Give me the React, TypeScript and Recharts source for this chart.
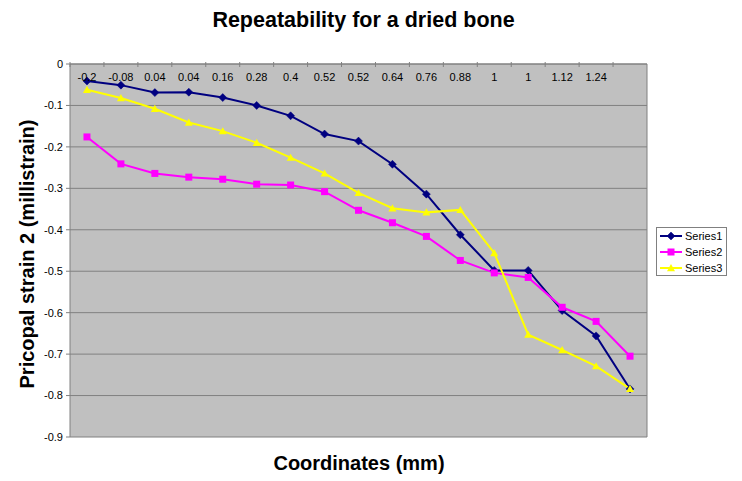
import React from 'react';
import { LineChart, Line, XAxis, YAxis, CartesianGrid } from 'recharts';

// x categories (coordinates in mm); the last point has no label
const coords = ['-0.2', '-0.08', '0.04', '0.04', '0.16', '0.28', '0.4', '0.52', '0.52', '0.64', '0.76', '0.88', '1', '1', '1.12', '1.24', ''];

const series1 = [-0.041, -0.051, -0.069, -0.068, -0.081, -0.1, -0.125, -0.169, -0.186, -0.242, -0.314, -0.412, -0.498, -0.498, -0.595, -0.656, -0.784];
const series2 = [-0.176, -0.241, -0.264, -0.273, -0.278, -0.29, -0.292, -0.308, -0.353, -0.383, -0.416, -0.474, -0.504, -0.515, -0.587, -0.621, -0.705];
const series3 = [-0.062, -0.082, -0.108, -0.141, -0.162, -0.19, -0.226, -0.264, -0.311, -0.348, -0.358, -0.352, -0.456, -0.653, -0.69, -0.729, -0.784];

const yTicks = [0, -0.1, -0.2, -0.3, -0.4, -0.5, -0.6, -0.7, -0.8, -0.9];

const data = coords.map((c, i) => ({ coord: c, s1: series1[i], s2: series2[i], s3: series3[i] }));

const W = 742;
const H = 481;
const PLOT_LEFT = 70;
const PLOT_TOP = 64;
const PLOT_RIGHT = 647;
const PLOT_BOTTOM = 437;
const STEP = (PLOT_RIGHT - PLOT_LEFT) / coords.length;
const FONT = '"Liberation Sans", Arial, sans-serif';

const NAVY = '#000080';
const MAGENTA = '#ff00ff';
const YELLOW = '#ffff00';

const Diamond = ({ cx, cy, fill, s = 4 }: any) => (
  <path d={`M${cx},${cy - s}L${cx + s},${cy}L${cx},${cy + s}L${cx - s},${cy}Z`} fill={fill} stroke={fill} strokeWidth={0.5} />
);
const Square = ({ cx, cy, fill, s = 3.5 }: any) => (
  <rect x={cx - s} y={cy - s} width={s * 2} height={s * 2} fill={fill} />
);
const Triangle = ({ cx, cy, fill, s = 4 }: any) => (
  <path d={`M${cx},${cy - s}L${cx + s},${cy + s * 0.8}L${cx - s},${cy + s * 0.8}Z`} fill={fill} />
);

// labels sit just below the top axis, tick marks between categories
const CategoryTick = ({ x, payload }: any) => (
  <g>
    <line x1={x - STEP / 2} x2={x - STEP / 2} y1={PLOT_TOP - 2} y2={PLOT_TOP + 3} stroke="#808080" />
    <text x={x} y={PLOT_TOP + 17} textAnchor="middle" fontSize={11} fontFamily={FONT} fill="#000">
      {payload.value}
    </text>
  </g>
);

const legendItems = [
  { name: 'Series1', color: NAVY, Marker: Diamond },
  { name: 'Series2', color: MAGENTA, Marker: Square },
  { name: 'Series3', color: YELLOW, Marker: Triangle },
];

export default function App() {
  return (
    <div style={{ position: 'absolute', left: 0, top: 0, width: W, height: H, background: '#fff' }}>
      <LineChart
        width={W}
        height={H}
        data={data}
        margin={{ top: PLOT_TOP - 10, right: W - PLOT_RIGHT, bottom: H - PLOT_BOTTOM, left: 0 }}
      >
        <CartesianGrid vertical={false} stroke="#808080" fill="#c0c0c0" fillOpacity={1} />
        <XAxis
          dataKey="coord"
          orientation="top"
          height={10}
          interval={0}
          padding={{ left: STEP / 2, right: STEP / 2 }}
          tickLine={false}
          axisLine={{ stroke: '#808080' }}
          tick={CategoryTick}
        />
        <YAxis
          type="number"
          domain={[-0.9, 0]}
          ticks={yTicks}
          interval={0}
          width={PLOT_LEFT}
          tickSize={4}
          tickMargin={3}
          tickLine={{ stroke: '#808080' }}
          axisLine={{ stroke: '#808080' }}
          tick={{ fontSize: 11, fill: '#000', fontFamily: FONT }}
        />
        <Line
          dataKey="s1"
          name="Series1"
          stroke={NAVY}
          strokeWidth={2}
          isAnimationActive={false}
          dot={(p: any) => <Diamond key={p.index} cx={p.cx} cy={p.cy} fill={NAVY} />}
        />
        <Line
          dataKey="s2"
          name="Series2"
          stroke={MAGENTA}
          strokeWidth={2}
          isAnimationActive={false}
          dot={(p: any) => <Square key={p.index} cx={p.cx} cy={p.cy} fill={MAGENTA} />}
        />
        <Line
          dataKey="s3"
          name="Series3"
          stroke={YELLOW}
          strokeWidth={2}
          isAnimationActive={false}
          dot={(p: any) => <Triangle key={p.index} cx={p.cx} cy={p.cy} fill={YELLOW} />}
        />
      </LineChart>

      <svg width={W} height={H} style={{ position: 'absolute', left: 0, top: 0, pointerEvents: 'none' }}>
        {/* right edge of the plot frame */}
        <line x1={PLOT_RIGHT} x2={PLOT_RIGHT} y1={PLOT_TOP} y2={PLOT_BOTTOM} stroke="#808080" />

        <text x={363.5} y={26.7} textAnchor="middle" fontSize={21.5} fontWeight="bold" fontFamily={FONT}>
          Repeatability for a dried bone
        </text>
        <text x={359} y={470} textAnchor="middle" fontSize={20} fontWeight="bold" fontFamily={FONT}>
          Coordinates (mm)
        </text>
        <text
          x={0}
          y={0}
          transform="translate(34,254) rotate(-90)"
          textAnchor="middle"
          fontSize={20}
          fontWeight="bold"
          fontFamily={FONT}
        >
          Pricopal strain 2 (millistrain)
        </text>

        <g>
          <rect x={656.5} y={227.5} width={70} height={48} fill="#fff" stroke="#808080" />
          {legendItems.map((it, i) => {
            const cy = 236 + i * 16;
            return (
              <g key={it.name}>
                <line x1={660} x2={682} y1={cy} y2={cy} stroke={it.color} strokeWidth={2} />
                <it.Marker cx={671} cy={cy} fill={it.color} />
                <text x={685} y={cy + 4} fontSize={11} fontFamily={FONT} fill="#000">
                  {it.name}
                </text>
              </g>
            );
          })}
        </g>
      </svg>
    </div>
  );
}
